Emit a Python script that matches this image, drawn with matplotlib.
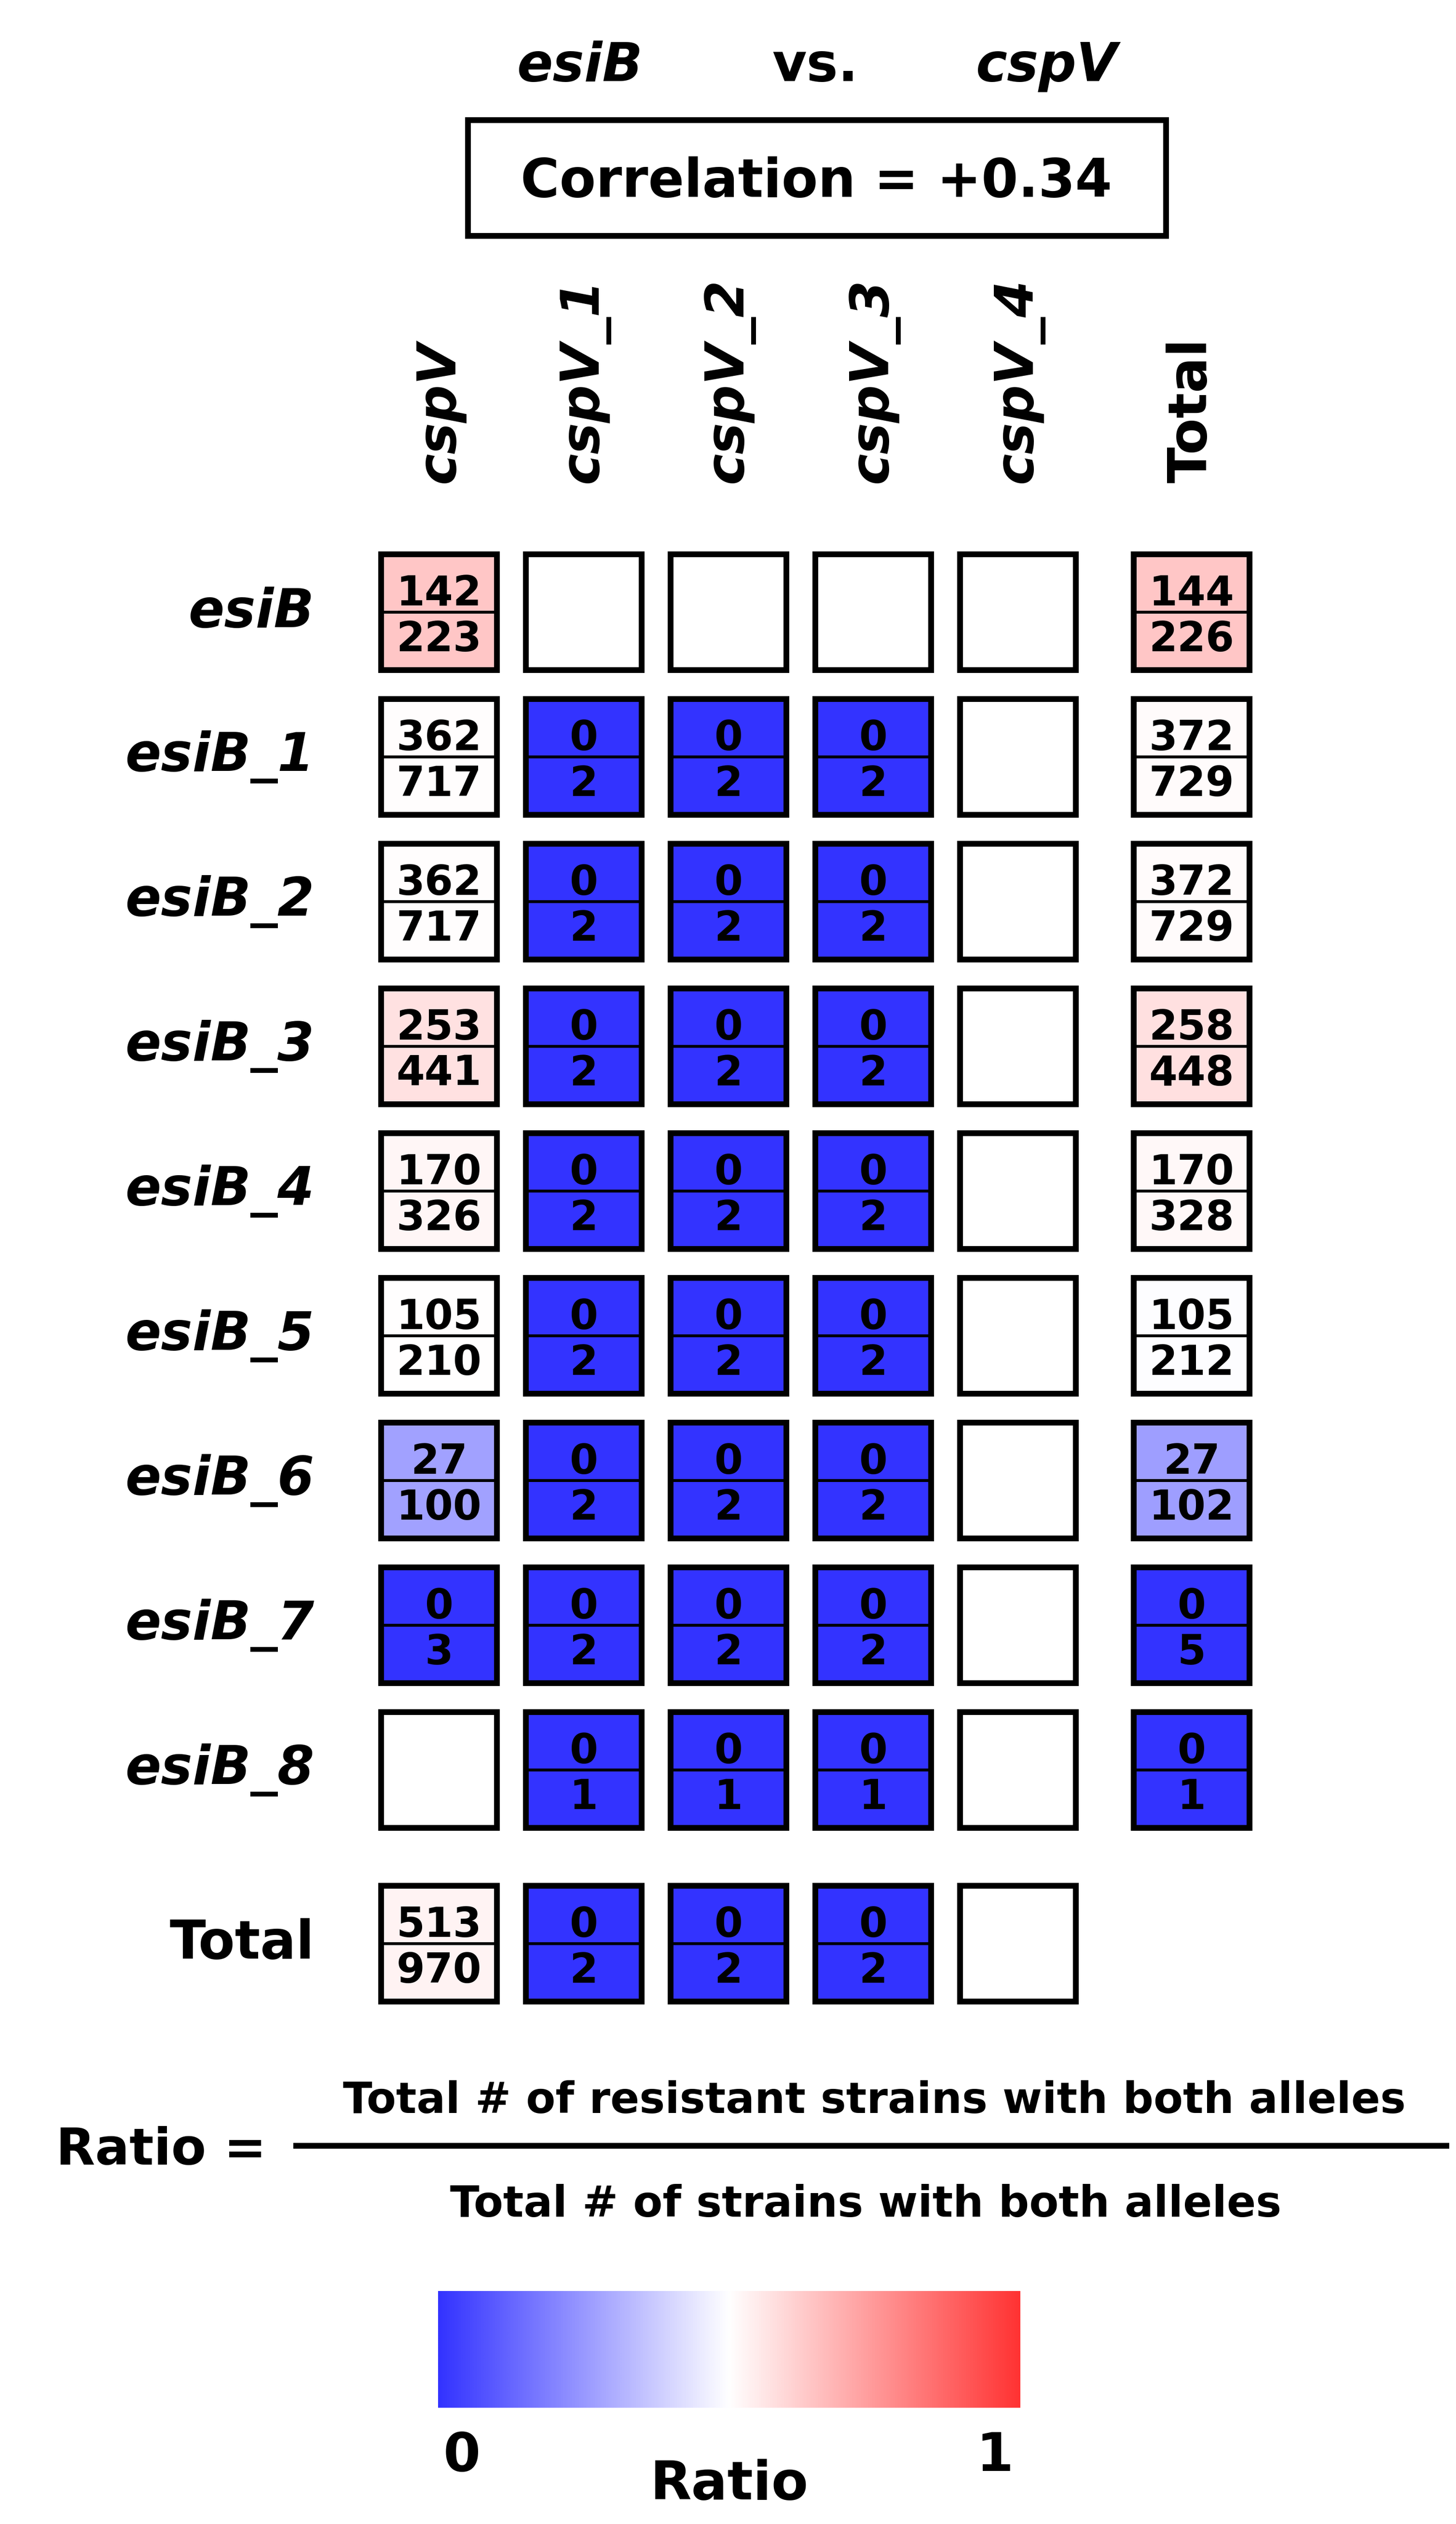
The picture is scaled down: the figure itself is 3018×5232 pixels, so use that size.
import numpy as np
import matplotlib
matplotlib.use("Agg")
import matplotlib.pyplot as plt
from matplotlib.patches import Rectangle
from matplotlib.colors import LinearSegmentedColormap

plt.rcParams["font.family"] = ["DejaVu Sans"]

# ---- data -------------------------------------------------------------
gene_a = "esiB"
gene_b = "cspV"
correlation = 0.34

row_labels = ["esiB", "esiB_1", "esiB_2", "esiB_3", "esiB_4",
              "esiB_5", "esiB_6", "esiB_7", "esiB_8", "Total"]
col_labels = ["cspV", "cspV_1", "cspV_2", "cspV_3", "cspV_4", "Total"]

E = None  # empty box
# resistant strains with both alleles
resistant = [
    [142, E, E, E, E, 144],
    [362, 0, 0, 0, E, 372],
    [362, 0, 0, 0, E, 372],
    [253, 0, 0, 0, E, 258],
    [170, 0, 0, 0, E, 170],
    [105, 0, 0, 0, E, 105],
    [27, 0, 0, 0, E, 27],
    [0, 0, 0, 0, E, 0],
    [E, 0, 0, 0, E, 0],
    [513, 0, 0, 0, E, E],
]
# all strains with both alleles
strains = [
    [223, E, E, E, E, 226],
    [717, 2, 2, 2, E, 729],
    [717, 2, 2, 2, E, 729],
    [441, 2, 2, 2, E, 448],
    [326, 2, 2, 2, E, 328],
    [210, 2, 2, 2, E, 212],
    [100, 2, 2, 2, E, 102],
    [3, 2, 2, 2, E, 5],
    [E, 1, 1, 1, E, 1],
    [970, 2, 2, 2, E, E],
]

# ---- layout (pixels, figure is 3018 x 5232 at dpi 100) -------------------
W, H = 3018, 5232
PX = 0.72  # points per pixel at dpi 100
cell = 240
pitch = 300
x0, y0 = 910, 1269
total_gap = 1.2

cmap = LinearSegmentedColormap.from_list(
    "bwr_ratio", [(0.2, 0.2, 1.0), (1, 1, 1), (1.0, 0.2, 0.2)])

fig = plt.figure(figsize=(W / 100, H / 100), dpi=100)
ax = fig.add_axes([0, 0, 1, 1])
ax.set_xlim(0, W)
ax.set_ylim(H, 0)
ax.axis("off")

n_rows, n_cols = len(row_labels), len(col_labels)
col_x = [x0 + pitch * (j if j < n_cols - 1 else (n_cols - 2) + total_gap)
         for j in range(n_cols)]
row_y = [y0 + pitch * (i if i < n_rows - 1 else (n_rows - 2) + total_gap)
         for i in range(n_rows)]

lab_fs = 79
num_fs = 61

# title
ax.text(1202, 168, gene_a, fontsize=lab_fs, fontweight="bold", style="italic",
        ha="center", va="baseline")
ax.text(1690, 168, "vs.", fontsize=lab_fs, fontweight="bold",
        ha="center", va="baseline")
ax.text(2170, 168, gene_b, fontsize=lab_fs, fontweight="bold", style="italic",
        ha="center", va="baseline")

ax.add_patch(Rectangle((970, 249), 1447, 240, facecolor="white",
                       edgecolor="black", lw=12 * PX, joinstyle="miter"))
ax.text(1692, 408, f"Correlation = {correlation:+.2f}", fontsize=lab_fs,
        fontweight="bold", ha="center", va="baseline")

# column headers
for j, lab in enumerate(col_labels):
    ax.text(col_x[j], 1001, lab, rotation=90, fontsize=lab_fs,
            fontweight="bold", style="normal" if lab == "Total" else "italic",
            ha="center", va="bottom")

# row labels
for i, lab in enumerate(row_labels):
    ax.text(651, row_y[i], lab, fontsize=lab_fs, fontweight="bold",
            style="normal" if lab == "Total" else "italic",
            ha="right", va="center")

# cells
for i in range(n_rows):
    for j in range(n_cols):
        if row_labels[i] == "Total" and col_labels[j] == "Total":
            continue
        cx, cy = col_x[j], row_y[i]
        r, n = resistant[i][j], strains[i][j]
        face = "white" if n is None else cmap(r / n)
        ax.add_patch(Rectangle((cx - cell / 2, cy - cell / 2), cell, cell,
                               facecolor=face, edgecolor="black",
                               lw=12 * PX, joinstyle="miter", zorder=2))
        if n is None:
            continue
        ax.plot([cx - cell / 2, cx + cell / 2], [cy, cy], color="black",
                lw=6 * PX, solid_capstyle="butt", zorder=3)
        ax.text(cx, cy - 14, str(r), fontsize=num_fs, fontweight="bold",
                ha="center", va="baseline", zorder=4)
        ax.text(cx, cy + 81, str(n), fontsize=num_fs, fontweight="bold",
                ha="center", va="baseline", zorder=4)

# ratio definition
ax.text(334, 4487, "Ratio =", fontsize=76, fontweight="bold",
        ha="center", va="baseline")
ax.plot([608, 3004], [4448, 4448], color="black", lw=12 * PX,
        solid_capstyle="butt")
ax.text(1812, 4380, "Total # of resistant strains with both alleles",
        fontsize=64, fontweight="bold", ha="center", va="baseline")
ax.text(1795, 4595, "Total # of strains with both alleles",
        fontsize=64, fontweight="bold", ha="center", va="baseline")

# colour bar
grad = np.linspace(0, 1, 512).reshape(1, -1)
ax.imshow(grad, cmap=cmap, vmin=0, vmax=1, aspect="auto",
          extent=(908, 2115, 4991, 4749), interpolation="bilinear")
ax.text(957, 5122, "0", fontsize=80, fontweight="bold",
        ha="center", va="baseline")
ax.text(2062, 5122, "1", fontsize=80, fontweight="bold",
        ha="center", va="baseline")
ax.text(1512, 5181, "Ratio", fontsize=80, fontweight="bold",
        ha="center", va="baseline")

ax.set_xlim(0, W)
ax.set_ylim(H, 0)
fig.savefig("out.png", dpi=100, facecolor="white")
